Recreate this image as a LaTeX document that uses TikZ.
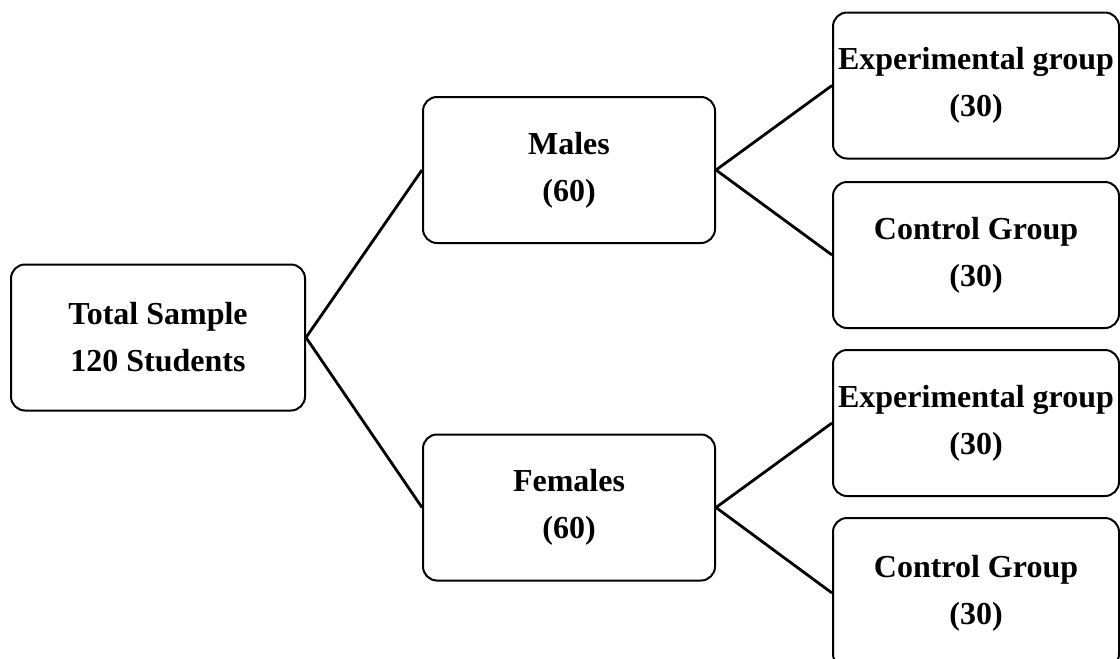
\documentclass[tikz,border=0pt]{standalone}
\usepackage{fontspec}
\setmainfont{Liberation Serif}

\begin{document}
\begin{tikzpicture}[
		x=0.5pt, y=-0.5pt,
		grpbox/.style={rectangle,draw=black,rounded corners=7pt,line width=1pt,
		inner sep=1pt,minimum height=73pt,align=center,
		font=\bfseries\fontsize{16}{23.5}\selectfont},
		link/.style={draw=black,line width=1.4pt}
		]
		\useasboundingbox (0,0) rectangle (1120,659);
		\node[grpbox,minimum width=147pt] (total) at (158,337.5) {Total Sample\\120 Students};
		\node[grpbox,minimum width=146pt] (males) at (569,170) {Males\\(60)};
		\node[grpbox,minimum width=146pt] (females) at (569,507.5) {Females\\(60)};
		\node[grpbox,minimum width=143pt] (mexp) at (976,85.5) {Experimental group\\(30)};
		\node[grpbox,minimum width=143pt] (mcon) at (976,255) {Control Group\\(30)};
		\node[grpbox,minimum width=143pt] (fexp) at (976,423) {Experimental group\\(30)};
		\node[grpbox,minimum width=143pt,minimum height=75pt] (fcon) at (976,593) {Control Group\\(30)};
		\draw[link] (total.east) -- (males.west);
		\draw[link] (total.east) -- (females.west);
		\draw[link] (males.east) -- (mexp.west);
		\draw[link] (males.east) -- (mcon.west);
		\draw[link] (females.east) -- (fexp.west);
		\draw[link] (females.east) -- (fcon.west);
	\end{tikzpicture}
\end{document}
